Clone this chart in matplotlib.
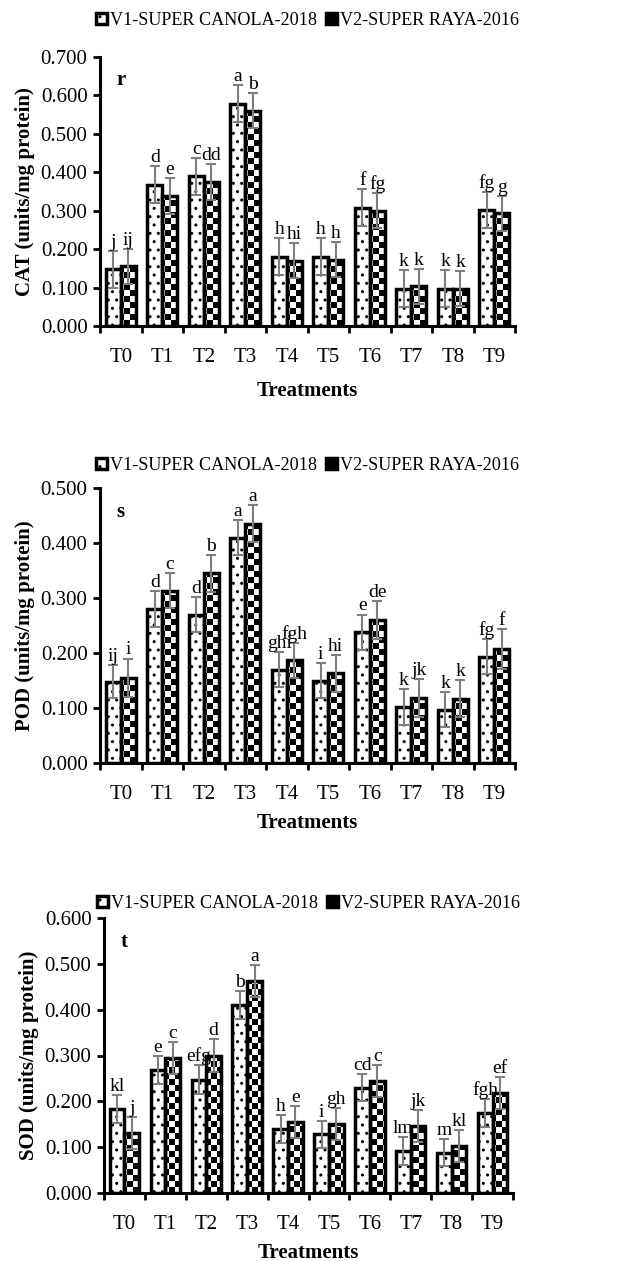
import numpy as np
import matplotlib
matplotlib.use("Agg")
import matplotlib.pyplot as plt
from matplotlib.patches import Patch

plt.rcParams['font.family'] = ['Liberation Serif', 'DejaVu Serif']
plt.rcParams['hatch.linewidth'] = 1.0

treatments = ['T0', 'T1', 'T2', 'T3', 'T4', 'T5', 'T6', 'T7', 'T8', 'T9']
series_names = ['V1-SUPER CANOLA-2018', 'V2-SUPER RAYA-2016']

cat_v1 = [0.148, 0.368, 0.390, 0.578, 0.180, 0.180, 0.308, 0.097, 0.097, 0.302]
cat_v2 = [0.155, 0.338, 0.375, 0.560, 0.170, 0.173, 0.300, 0.103, 0.097, 0.293]
cat_e1 = [0.048, 0.048, 0.048, 0.048, 0.048, 0.048, 0.048, 0.048, 0.048, 0.048]
cat_e2 = [0.046, 0.046, 0.046, 0.046, 0.046, 0.046, 0.046, 0.046, 0.046, 0.046]
cat_l1 = ['j', 'd', 'c', 'a', 'h', 'h', 'f', 'k', 'k', 'fg']
cat_l2 = ['ij', 'e', 'dd', 'b', 'hi', 'h', 'fg', 'k', 'k', 'g']

pod_v1 = [0.148, 0.280, 0.270, 0.410, 0.170, 0.150, 0.238, 0.102, 0.097, 0.193]
pod_v2 = [0.155, 0.313, 0.345, 0.435, 0.187, 0.163, 0.260, 0.118, 0.117, 0.207]
pod_e1 = [0.030, 0.032, 0.032, 0.032, 0.032, 0.032, 0.032, 0.032, 0.032, 0.032]
pod_e2 = [0.035, 0.032, 0.034, 0.034, 0.032, 0.034, 0.034, 0.034, 0.034, 0.036]
pod_l1 = ['ij', 'd', 'd', 'a', 'ghi', 'i', 'e', 'k', 'k', 'fg']
pod_l2 = ['i', 'c', 'b', 'a', 'fgh', 'hi', 'de', 'jk', 'k', 'f']

sod_v1 = [0.183, 0.268, 0.247, 0.410, 0.140, 0.128, 0.230, 0.092, 0.088, 0.175]
sod_v2 = [0.130, 0.295, 0.300, 0.462, 0.155, 0.150, 0.245, 0.147, 0.103, 0.218]
sod_e1 = [0.030, 0.030, 0.032, 0.030, 0.030, 0.030, 0.030, 0.030, 0.030, 0.030]
sod_e2 = [0.035, 0.035, 0.035, 0.035, 0.035, 0.035, 0.035, 0.035, 0.035, 0.035]
sod_l1 = ['kl', 'e', 'efg', 'b', 'h', 'i', 'cd', 'lm', 'm', 'fgh']
sod_l2 = ['j', 'c', 'd', 'a', 'e', 'gh', 'c', 'jk', 'kl', 'ef']

panels = [
    ('CAT (units/mg protein)', 'r', 0.700, cat_v1, cat_v2, cat_e1, cat_e2, cat_l1, cat_l2),
    ('POD (units/mg protein)', 's', 0.500, pod_v1, pod_v2, pod_e1, pod_e2, pod_l1, pod_l2),
    ('SOD (units/mg protein)', 't', 0.600, sod_v1, sod_v2, sod_e1, sod_e2, sod_l1, sod_l2),
]

W, H = 625, 1261
fig = plt.figure(figsize=(W / 100, H / 100), dpi=100)

# axes boxes in pixels: left, top, right, bottom
boxes = [(100, 57, 515, 326), (100, 488, 515, 763), (104, 918, 513, 1193)]
# the three panels don't share spacing in the original
xlab_pads = [10, 6, 6]
legend_y = [1.078, 1.025, 0.995]


def checker(ax, bar, cell=6):
    bb = ax.get_position()
    nx = int(bb.width * W / cell) + 1
    ny = int(bb.height * H / cell) + 1
    grid = (np.add.outer(np.arange(ny), np.arange(nx)) % 2).astype(float)
    im = ax.imshow(grid, cmap='gray', extent=(0, 1, 0, 1), transform=ax.transAxes,
                   interpolation='nearest', aspect='auto', zorder=2, vmin=0, vmax=1)
    im.set_clip_path(bar)


x = np.arange(len(treatments))
bw = 0.36

for (ylabel, tag, ymax, v1, v2, e1, e2, l1, l2), (l, t, r, b), lp, ly in zip(
        panels, boxes, xlab_pads, legend_y):
    ax = fig.add_axes([l / W, 1 - b / H, (r - l) / W, (b - t) / H])
    ax.set_xlim(-0.5, 9.5)
    ax.set_ylim(0, ymax)

    ax.bar(x - bw / 2, v1, bw, facecolor='white', edgecolor='black',
           hatch='..', linewidth=0, zorder=2)
    bars2 = ax.bar(x + bw / 2, v2, bw, facecolor='white', linewidth=0, zorder=1)
    for bar in bars2:
        checker(ax, bar)
    ax.bar(x - bw / 2, v1, bw, fill=False, edgecolor='black', linewidth=2.5, zorder=3)
    ax.bar(x + bw / 2, v2, bw, fill=False, edgecolor='black', linewidth=2.5, zorder=3)

    ax.errorbar(x - bw / 2, v1, yerr=e1, fmt='none', ecolor='#7f7f7f', elinewidth=1.5,
                capsize=3.5, capthick=1.5, zorder=4)
    ax.errorbar(x + bw / 2, v2, yerr=e2, fmt='none', ecolor='#7f7f7f', elinewidth=1.5,
                capsize=3.5, capthick=1.5, zorder=4)

    for xi, v, e, s in zip(x - bw / 2, v1, e1, l1):
        ax.text(xi, v + e, s, ha='center', va='bottom', fontsize=14, zorder=5)
    for xi, v, e, s in zip(x + bw / 2, v2, e2, l2):
        ax.text(xi, v + e, s, ha='center', va='bottom', fontsize=14, zorder=5)

    ax.text(0.04, 0.95, tag, transform=ax.transAxes, fontsize=15, fontweight='bold',
            va='top', ha='left')

    ax.spines['top'].set_visible(False)
    ax.spines['right'].set_visible(False)
    ax.spines['left'].set_linewidth(2.2)
    ax.spines['bottom'].set_linewidth(2.2)

    yt = np.arange(0, ymax + 1e-9, 0.1)
    ax.set_yticks(yt)
    ax.set_yticklabels(['%.3f' % v for v in yt], fontsize=15)
    ax.tick_params(axis='y', direction='out', length=5, width=2, pad=4)

    ax.set_xticks(np.arange(-0.5, 10, 1.0))
    ax.set_xticklabels([])
    ax.tick_params(axis='x', which='major', direction='out', length=5, width=2)
    ax.set_xticks(x, minor=True)
    ax.set_xticklabels(treatments, minor=True, fontsize=15)
    ax.tick_params(axis='x', which='minor', length=0, pad=16)

    ax.set_xlabel('Treatments', fontsize=15, fontweight='bold', labelpad=lp)
    ax.set_ylabel(ylabel, fontsize=15, fontweight='bold', labelpad=4)

    handles = [Patch(facecolor='white', edgecolor='black', linewidth=2.5, hatch='..'),
               Patch(facecolor='black', edgecolor='black', linewidth=2.5)]
    ax.legend(handles, series_names, loc='lower center', bbox_to_anchor=(0.5, ly),
              ncol=2, frameon=False, fontsize=13.1, handlelength=0.6, handleheight=0.6,
              handletextpad=0.2, columnspacing=0.45, borderaxespad=0)

fig.savefig('out.png', dpi=100)
